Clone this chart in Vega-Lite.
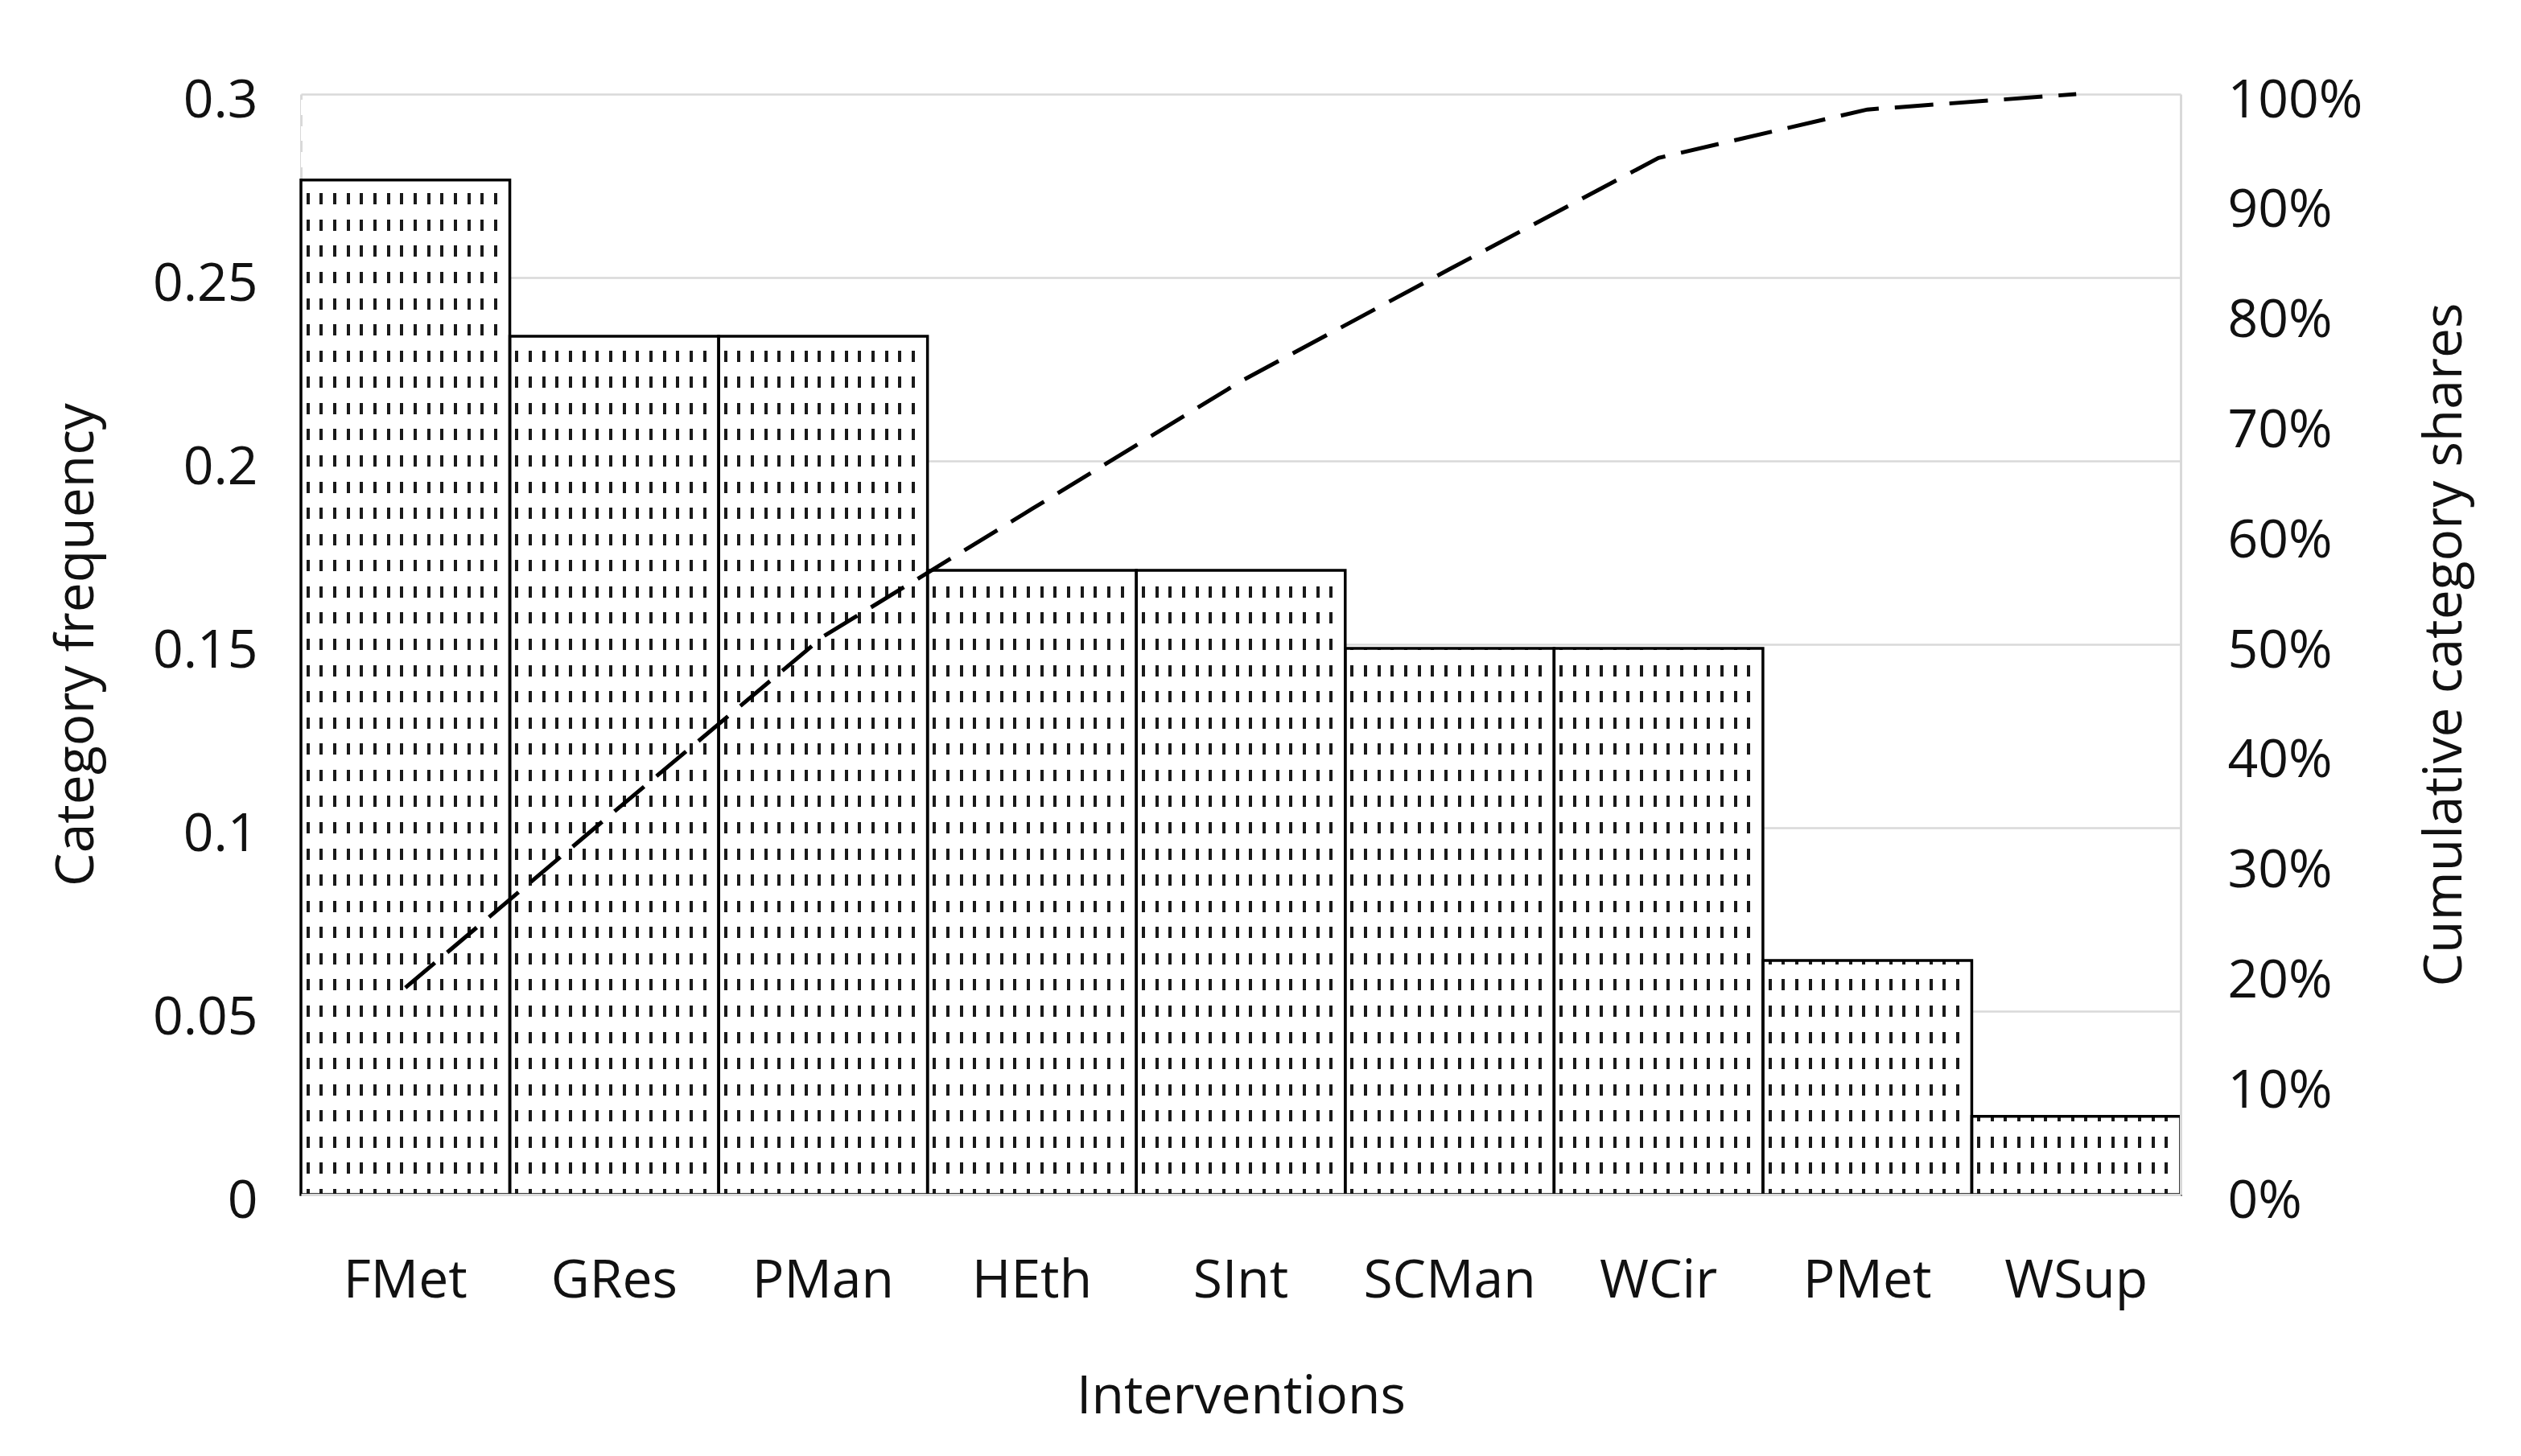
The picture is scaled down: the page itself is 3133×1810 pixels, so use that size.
{
  "$schema": "https://vega.github.io/schema/vega-lite/v6.json",
  "autosize": {"type": "none"},
  "width": 2336,
  "height": 1368,
  "padding": {"left": 374, "top": 117, "right": 423, "bottom": 325},
  "background": "white",
  "config": {
    "view": {"stroke": null},
    "font": "Open Sans",
    "axis": {"labelColor": "#111111", "titleColor": "#111111", "titleFontWeight": "normal", "labelFont": "Open Sans", "titleFont": "Open Sans", "labelLimit": 600}
  },
  "data": {
    "values": [
      {"cat": "FMet", "freq": 0.2766, "cum": 0.188},
      {"cat": "GRes", "freq": 0.2340, "cum": 0.348},
      {"cat": "PMan", "freq": 0.2340, "cum": 0.507},
      {"cat": "HEth", "freq": 0.1702, "cum": 0.623},
      {"cat": "SInt", "freq": 0.1702, "cum": 0.739},
      {"cat": "SCMan", "freq": 0.1489, "cum": 0.841},
      {"cat": "WCir", "freq": 0.1489, "cum": 0.942},
      {"cat": "PMet", "freq": 0.0638, "cum": 0.986},
      {"cat": "WSup", "freq": 0.0213, "cum": 1.0}
    ]
  },
  "layer": [
    {
      "layer": [
        {
          "mark": {
            "type": "bar",
            "strokeWidth": 0,
            "fill": {
              "gradient": "linear", "x1": 0, "y1": 0, "x2": 1, "y2": 0,
              "stops": [
                {"offset": 0, "color": "#ffffff"},
                {"offset": 0.0258, "color": "#ffffff"}, {"offset": 0.0258, "color": "#1a1a1a"}, {"offset": 0.0412, "color": "#1a1a1a"}, {"offset": 0.0412, "color": "#ffffff"},
                {"offset": 0.0900, "color": "#ffffff"}, {"offset": 0.0900, "color": "#1a1a1a"}, {"offset": 0.1054, "color": "#1a1a1a"}, {"offset": 0.1054, "color": "#ffffff"},
                {"offset": 0.1542, "color": "#ffffff"}, {"offset": 0.1542, "color": "#1a1a1a"}, {"offset": 0.1696, "color": "#1a1a1a"}, {"offset": 0.1696, "color": "#ffffff"},
                {"offset": 0.2184, "color": "#ffffff"}, {"offset": 0.2184, "color": "#1a1a1a"}, {"offset": 0.2338, "color": "#1a1a1a"}, {"offset": 0.2338, "color": "#ffffff"},
                {"offset": 0.2826, "color": "#ffffff"}, {"offset": 0.2826, "color": "#1a1a1a"}, {"offset": 0.2980, "color": "#1a1a1a"}, {"offset": 0.2980, "color": "#ffffff"},
                {"offset": 0.3468, "color": "#ffffff"}, {"offset": 0.3468, "color": "#1a1a1a"}, {"offset": 0.3622, "color": "#1a1a1a"}, {"offset": 0.3622, "color": "#ffffff"},
                {"offset": 0.4110, "color": "#ffffff"}, {"offset": 0.4110, "color": "#1a1a1a"}, {"offset": 0.4264, "color": "#1a1a1a"}, {"offset": 0.4264, "color": "#ffffff"},
                {"offset": 0.4752, "color": "#ffffff"}, {"offset": 0.4752, "color": "#1a1a1a"}, {"offset": 0.4906, "color": "#1a1a1a"}, {"offset": 0.4906, "color": "#ffffff"},
                {"offset": 0.5394, "color": "#ffffff"}, {"offset": 0.5394, "color": "#1a1a1a"}, {"offset": 0.5548, "color": "#1a1a1a"}, {"offset": 0.5548, "color": "#ffffff"},
                {"offset": 0.6036, "color": "#ffffff"}, {"offset": 0.6036, "color": "#1a1a1a"}, {"offset": 0.6190, "color": "#1a1a1a"}, {"offset": 0.6190, "color": "#ffffff"},
                {"offset": 0.6678, "color": "#ffffff"}, {"offset": 0.6678, "color": "#1a1a1a"}, {"offset": 0.6832, "color": "#1a1a1a"}, {"offset": 0.6832, "color": "#ffffff"},
                {"offset": 0.7320, "color": "#ffffff"}, {"offset": 0.7320, "color": "#1a1a1a"}, {"offset": 0.7474, "color": "#1a1a1a"}, {"offset": 0.7474, "color": "#ffffff"},
                {"offset": 0.7962, "color": "#ffffff"}, {"offset": 0.7962, "color": "#1a1a1a"}, {"offset": 0.8116, "color": "#1a1a1a"}, {"offset": 0.8116, "color": "#ffffff"},
                {"offset": 0.8604, "color": "#ffffff"}, {"offset": 0.8604, "color": "#1a1a1a"}, {"offset": 0.8758, "color": "#1a1a1a"}, {"offset": 0.8758, "color": "#ffffff"},
                {"offset": 0.9246, "color": "#ffffff"}, {"offset": 0.9246, "color": "#1a1a1a"}, {"offset": 0.9400, "color": "#1a1a1a"}, {"offset": 0.9400, "color": "#ffffff"},
                {"offset": 1, "color": "#ffffff"}
              ]
            }
          },
          "encoding": {
            "x": {
              "field": "cat", "type": "nominal", "sort": null,
              "scale": {"paddingInner": 0, "paddingOuter": 0},
              "axis": {
                "title": "Interventions", "labelAngle": 0, "ticks": false,
                "domain": true, "domainColor": "#d9d9d9", "domainWidth": 3,
                "labelFontSize": 66, "titleFontSize": 66,
                "labelPadding": 75, "titlePadding": 79, "zindex": 1
              }
            },
            "y": {
              "field": "freq", "type": "quantitative",
              "scale": {"domain": [0, 0.3], "nice": false, "zero": true},
              "axis": {
                "title": "Category frequency", "orient": "left",
                "values": [0, 0.05, 0.1, 0.15, 0.2, 0.25, 0.3], "format": "~g",
                "ticks": false, "domain": true, "domainColor": "#d9d9d9", "domainWidth": 3,
                "grid": true, "gridColor": "#d9d9d9", "gridWidth": 2.5,
                "labelFontSize": 66, "titleFontSize": 66,
                "labelPadding": 54, "labelOffset": 8, "titlePadding": 60, "zindex": 0
              }
            }
          }
        },
        {
          "mark": {
            "type": "bar",
            "strokeWidth": 0,
            "fill": {
              "gradient": "linear", "x1": 0, "y1": 0, "x2": 0, "y2": 1,
              "stops": [
                {"offset": 0, "color": "rgba(255,255,255,0)"},
                {"offset": 0.00512, "color": "rgba(255,255,255,0)"}, {"offset": 0.00512, "color": "#ffffff"}, {"offset": 0.01869, "color": "#ffffff"}, {"offset": 0.01869, "color": "rgba(255,255,255,0)"},
                {"offset": 0.02893, "color": "rgba(255,255,255,0)"}, {"offset": 0.02893, "color": "#ffffff"}, {"offset": 0.04250, "color": "#ffffff"}, {"offset": 0.04250, "color": "rgba(255,255,255,0)"},
                {"offset": 0.05274, "color": "rgba(255,255,255,0)"}, {"offset": 0.05274, "color": "#ffffff"}, {"offset": 0.06631, "color": "#ffffff"}, {"offset": 0.06631, "color": "rgba(255,255,255,0)"},
                {"offset": 0.07655, "color": "rgba(255,255,255,0)"}, {"offset": 0.07655, "color": "#ffffff"}, {"offset": 0.09012, "color": "#ffffff"}, {"offset": 0.09012, "color": "rgba(255,255,255,0)"},
                {"offset": 0.10036, "color": "rgba(255,255,255,0)"}, {"offset": 0.10036, "color": "#ffffff"}, {"offset": 0.11393, "color": "#ffffff"}, {"offset": 0.11393, "color": "rgba(255,255,255,0)"},
                {"offset": 0.12417, "color": "rgba(255,255,255,0)"}, {"offset": 0.12417, "color": "#ffffff"}, {"offset": 0.13774, "color": "#ffffff"}, {"offset": 0.13774, "color": "rgba(255,255,255,0)"},
                {"offset": 0.14798, "color": "rgba(255,255,255,0)"}, {"offset": 0.14798, "color": "#ffffff"}, {"offset": 0.16155, "color": "#ffffff"}, {"offset": 0.16155, "color": "rgba(255,255,255,0)"},
                {"offset": 0.17179, "color": "rgba(255,255,255,0)"}, {"offset": 0.17179, "color": "#ffffff"}, {"offset": 0.18536, "color": "#ffffff"}, {"offset": 0.18536, "color": "rgba(255,255,255,0)"},
                {"offset": 0.19560, "color": "rgba(255,255,255,0)"}, {"offset": 0.19560, "color": "#ffffff"}, {"offset": 0.20917, "color": "#ffffff"}, {"offset": 0.20917, "color": "rgba(255,255,255,0)"},
                {"offset": 0.21940, "color": "rgba(255,255,255,0)"}, {"offset": 0.21940, "color": "#ffffff"}, {"offset": 0.23298, "color": "#ffffff"}, {"offset": 0.23298, "color": "rgba(255,255,255,0)"},
                {"offset": 0.24321, "color": "rgba(255,255,255,0)"}, {"offset": 0.24321, "color": "#ffffff"}, {"offset": 0.25679, "color": "#ffffff"}, {"offset": 0.25679, "color": "rgba(255,255,255,0)"},
                {"offset": 0.26702, "color": "rgba(255,255,255,0)"}, {"offset": 0.26702, "color": "#ffffff"}, {"offset": 0.28060, "color": "#ffffff"}, {"offset": 0.28060, "color": "rgba(255,255,255,0)"},
                {"offset": 0.29083, "color": "rgba(255,255,255,0)"}, {"offset": 0.29083, "color": "#ffffff"}, {"offset": 0.30440, "color": "#ffffff"}, {"offset": 0.30440, "color": "rgba(255,255,255,0)"},
                {"offset": 0.31464, "color": "rgba(255,255,255,0)"}, {"offset": 0.31464, "color": "#ffffff"}, {"offset": 0.32821, "color": "#ffffff"}, {"offset": 0.32821, "color": "rgba(255,255,255,0)"},
                {"offset": 0.33845, "color": "rgba(255,255,255,0)"}, {"offset": 0.33845, "color": "#ffffff"}, {"offset": 0.35202, "color": "#ffffff"}, {"offset": 0.35202, "color": "rgba(255,255,255,0)"},
                {"offset": 0.36226, "color": "rgba(255,255,255,0)"}, {"offset": 0.36226, "color": "#ffffff"}, {"offset": 0.37583, "color": "#ffffff"}, {"offset": 0.37583, "color": "rgba(255,255,255,0)"},
                {"offset": 0.38607, "color": "rgba(255,255,255,0)"}, {"offset": 0.38607, "color": "#ffffff"}, {"offset": 0.39964, "color": "#ffffff"}, {"offset": 0.39964, "color": "rgba(255,255,255,0)"},
                {"offset": 0.40988, "color": "rgba(255,255,255,0)"}, {"offset": 0.40988, "color": "#ffffff"}, {"offset": 0.42345, "color": "#ffffff"}, {"offset": 0.42345, "color": "rgba(255,255,255,0)"},
                {"offset": 0.43369, "color": "rgba(255,255,255,0)"}, {"offset": 0.43369, "color": "#ffffff"}, {"offset": 0.44726, "color": "#ffffff"}, {"offset": 0.44726, "color": "rgba(255,255,255,0)"},
                {"offset": 0.45750, "color": "rgba(255,255,255,0)"}, {"offset": 0.45750, "color": "#ffffff"}, {"offset": 0.47107, "color": "#ffffff"}, {"offset": 0.47107, "color": "rgba(255,255,255,0)"},
                {"offset": 0.48131, "color": "rgba(255,255,255,0)"}, {"offset": 0.48131, "color": "#ffffff"}, {"offset": 0.49488, "color": "#ffffff"}, {"offset": 0.49488, "color": "rgba(255,255,255,0)"},
                {"offset": 0.50512, "color": "rgba(255,255,255,0)"}, {"offset": 0.50512, "color": "#ffffff"}, {"offset": 0.51869, "color": "#ffffff"}, {"offset": 0.51869, "color": "rgba(255,255,255,0)"},
                {"offset": 0.52893, "color": "rgba(255,255,255,0)"}, {"offset": 0.52893, "color": "#ffffff"}, {"offset": 0.54250, "color": "#ffffff"}, {"offset": 0.54250, "color": "rgba(255,255,255,0)"},
                {"offset": 0.55274, "color": "rgba(255,255,255,0)"}, {"offset": 0.55274, "color": "#ffffff"}, {"offset": 0.56631, "color": "#ffffff"}, {"offset": 0.56631, "color": "rgba(255,255,255,0)"},
                {"offset": 0.57655, "color": "rgba(255,255,255,0)"}, {"offset": 0.57655, "color": "#ffffff"}, {"offset": 0.59012, "color": "#ffffff"}, {"offset": 0.59012, "color": "rgba(255,255,255,0)"},
                {"offset": 0.60036, "color": "rgba(255,255,255,0)"}, {"offset": 0.60036, "color": "#ffffff"}, {"offset": 0.61393, "color": "#ffffff"}, {"offset": 0.61393, "color": "rgba(255,255,255,0)"},
                {"offset": 0.62417, "color": "rgba(255,255,255,0)"}, {"offset": 0.62417, "color": "#ffffff"}, {"offset": 0.63774, "color": "#ffffff"}, {"offset": 0.63774, "color": "rgba(255,255,255,0)"},
                {"offset": 0.64798, "color": "rgba(255,255,255,0)"}, {"offset": 0.64798, "color": "#ffffff"}, {"offset": 0.66155, "color": "#ffffff"}, {"offset": 0.66155, "color": "rgba(255,255,255,0)"},
                {"offset": 0.67179, "color": "rgba(255,255,255,0)"}, {"offset": 0.67179, "color": "#ffffff"}, {"offset": 0.68536, "color": "#ffffff"}, {"offset": 0.68536, "color": "rgba(255,255,255,0)"},
                {"offset": 0.69560, "color": "rgba(255,255,255,0)"}, {"offset": 0.69560, "color": "#ffffff"}, {"offset": 0.70917, "color": "#ffffff"}, {"offset": 0.70917, "color": "rgba(255,255,255,0)"},
                {"offset": 0.71940, "color": "rgba(255,255,255,0)"}, {"offset": 0.71940, "color": "#ffffff"}, {"offset": 0.73298, "color": "#ffffff"}, {"offset": 0.73298, "color": "rgba(255,255,255,0)"},
                {"offset": 0.74321, "color": "rgba(255,255,255,0)"}, {"offset": 0.74321, "color": "#ffffff"}, {"offset": 0.75679, "color": "#ffffff"}, {"offset": 0.75679, "color": "rgba(255,255,255,0)"},
                {"offset": 0.76702, "color": "rgba(255,255,255,0)"}, {"offset": 0.76702, "color": "#ffffff"}, {"offset": 0.78060, "color": "#ffffff"}, {"offset": 0.78060, "color": "rgba(255,255,255,0)"},
                {"offset": 0.79083, "color": "rgba(255,255,255,0)"}, {"offset": 0.79083, "color": "#ffffff"}, {"offset": 0.80440, "color": "#ffffff"}, {"offset": 0.80440, "color": "rgba(255,255,255,0)"},
                {"offset": 0.81464, "color": "rgba(255,255,255,0)"}, {"offset": 0.81464, "color": "#ffffff"}, {"offset": 0.82821, "color": "#ffffff"}, {"offset": 0.82821, "color": "rgba(255,255,255,0)"},
                {"offset": 0.83845, "color": "rgba(255,255,255,0)"}, {"offset": 0.83845, "color": "#ffffff"}, {"offset": 0.85202, "color": "#ffffff"}, {"offset": 0.85202, "color": "rgba(255,255,255,0)"},
                {"offset": 0.86226, "color": "rgba(255,255,255,0)"}, {"offset": 0.86226, "color": "#ffffff"}, {"offset": 0.87583, "color": "#ffffff"}, {"offset": 0.87583, "color": "rgba(255,255,255,0)"},
                {"offset": 0.88607, "color": "rgba(255,255,255,0)"}, {"offset": 0.88607, "color": "#ffffff"}, {"offset": 0.89964, "color": "#ffffff"}, {"offset": 0.89964, "color": "rgba(255,255,255,0)"},
                {"offset": 0.90988, "color": "rgba(255,255,255,0)"}, {"offset": 0.90988, "color": "#ffffff"}, {"offset": 0.92345, "color": "#ffffff"}, {"offset": 0.92345, "color": "rgba(255,255,255,0)"},
                {"offset": 0.93369, "color": "rgba(255,255,255,0)"}, {"offset": 0.93369, "color": "#ffffff"}, {"offset": 0.94726, "color": "#ffffff"}, {"offset": 0.94726, "color": "rgba(255,255,255,0)"},
                {"offset": 0.95750, "color": "rgba(255,255,255,0)"}, {"offset": 0.95750, "color": "#ffffff"}, {"offset": 0.97107, "color": "#ffffff"}, {"offset": 0.97107, "color": "rgba(255,255,255,0)"},
                {"offset": 0.98131, "color": "rgba(255,255,255,0)"}, {"offset": 0.98131, "color": "#ffffff"}, {"offset": 0.99488, "color": "#ffffff"}, {"offset": 0.99488, "color": "rgba(255,255,255,0)"},
                {"offset": 1, "color": "rgba(255,255,255,0)"}
              ]
            }
          },
          "encoding": {
            "x": {"field": "cat", "type": "nominal", "sort": null},
            "y": {"datum": 0.3, "type": "quantitative"},
            "y2": {"datum": 0}
          }
        },
        {
          "mark": {"type": "bar", "fillOpacity": 0, "stroke": "#000000", "strokeWidth": 3.5},
          "encoding": {
            "x": {"field": "cat", "type": "nominal", "sort": null},
            "y": {"field": "freq", "type": "quantitative"}
          }
        }
      ]
    },
    {
      "mark": {"type": "line", "stroke": "#000000", "strokeWidth": 5, "strokeDash": [48, 20]},
      "encoding": {
        "x": {"field": "cat", "type": "nominal", "sort": null},
        "y": {
          "field": "cum", "type": "quantitative",
          "scale": {"domain": [0, 1], "nice": false},
          "axis": {
            "title": "Cumulative category shares", "orient": "right",
            "values": [0, 0.1, 0.2, 0.3, 0.4, 0.5, 0.6, 0.7, 0.8, 0.9, 1], "format": ".0%",
            "ticks": false, "domain": true, "domainColor": "#d9d9d9", "domainWidth": 3,
            "grid": false, "labelFontSize": 66, "titleFontSize": 66,
            "labelPadding": 58, "labelOffset": 8, "titlePadding": 96,
            "titleAngle": -90, "titleBaseline": "top", "zindex": 1
          }
        }
      }
    }
  ],
  "resolve": {"scale": {"y": "independent"}}
}
